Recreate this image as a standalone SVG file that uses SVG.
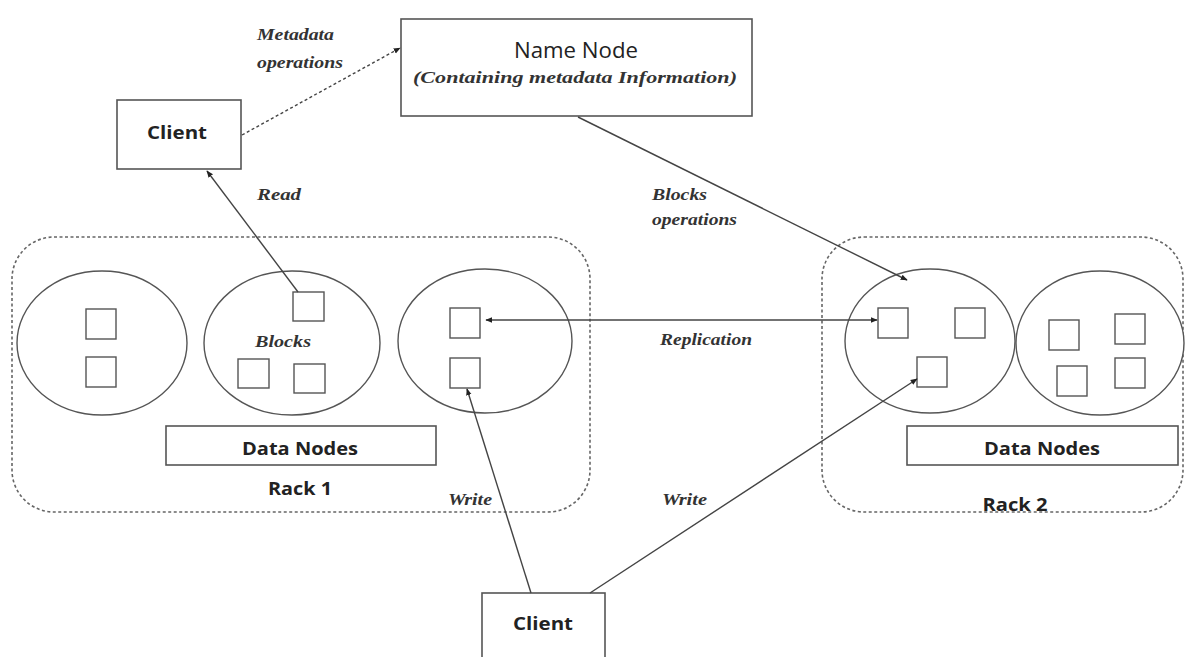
<svg xmlns="http://www.w3.org/2000/svg" width="1186" height="657" viewBox="0 0 1186 657">
<defs>
<marker id="arr" viewBox="0 0 10 10" refX="9" refY="5" markerWidth="7" markerHeight="7" orient="auto-start-reverse" markerUnits="userSpaceOnUse">
<path d="M0,1 L10,5 L0,9 z" fill="#222"/>
</marker>
<style>
.box{fill:#fff;stroke:#555;stroke-width:1.6}
.rack{fill:none;stroke:#666;stroke-width:1.6;stroke-dasharray:3 2.5}
.ell{fill:#fff;stroke:#555;stroke-width:1.4}
.sq{fill:#fff;stroke:#555;stroke-width:1.4}
.lbl{font-family:"Open Sans","Liberation Sans",sans-serif;font-weight:bold;font-size:18px;fill:#222;text-anchor:middle}
.nm{font-family:"Open Sans","Liberation Sans",sans-serif;font-size:22px;fill:#222;text-anchor:middle}
.it{font-family:"Liberation Serif",serif;font-style:italic;font-weight:bold;font-size:17px;fill:#333}
.con{fill:none;stroke:#444;stroke-width:1.4}
</style>
</defs>
<rect width="1186" height="657" fill="#fff"/>

<g id="rack1">
<rect class="rack" x="12" y="237" width="578" height="275" rx="42"/>
<text class="lbl" x="300" y="495" textLength="64" lengthAdjust="spacingAndGlyphs">Rack 1</text>
</g>
<g id="rack2">
<rect class="rack" x="822" y="237" width="361" height="275" rx="42"/>
<text class="lbl" x="1015" y="511" textLength="65" lengthAdjust="spacingAndGlyphs">Rack 2</text>
</g>

<g id="datanode1">
<ellipse class="ell" cx="102" cy="343" rx="85" ry="72"/>
<rect class="sq" x="86" y="309" width="30" height="30"/>
<rect class="sq" x="86" y="357" width="30" height="30"/>
</g>
<g id="datanode2">
<ellipse class="ell" cx="292" cy="343" rx="88" ry="72"/>
<rect class="sq" x="293" y="292" width="31" height="29"/>
<rect class="sq" x="238" y="359" width="31" height="29"/>
<rect class="sq" x="294" y="364" width="31" height="29"/>
<text class="it" x="255" y="347" textLength="56" lengthAdjust="spacingAndGlyphs">Blocks</text>
</g>
<g id="datanode3">
<ellipse class="ell" cx="485" cy="341" rx="87" ry="72"/>
<rect class="sq" x="450" y="308" width="30" height="30"/>
<rect class="sq" x="450" y="358" width="30" height="30"/>
</g>
<g id="datanode4">
<ellipse class="ell" cx="930" cy="341" rx="85" ry="72"/>
<rect class="sq" x="878" y="308" width="30" height="30"/>
<rect class="sq" x="955" y="308" width="30" height="30"/>
<rect class="sq" x="917" y="357" width="30" height="30"/>
</g>
<g id="datanode5">
<ellipse class="ell" cx="1100" cy="343" rx="84" ry="72"/>
<rect class="sq" x="1049" y="320" width="30" height="30"/>
<rect class="sq" x="1115" y="314" width="30" height="30"/>
<rect class="sq" x="1057" y="366" width="30" height="30"/>
<rect class="sq" x="1115" y="358" width="30" height="30"/>
</g>

<g id="datanodes1">
<rect class="box" x="166" y="426" width="270" height="39"/>
<text class="lbl" x="300" y="455" textLength="116" lengthAdjust="spacingAndGlyphs">Data Nodes</text>
</g>
<g id="datanodes2">
<rect class="box" x="907" y="426" width="271" height="39"/>
<text class="lbl" x="1042" y="455" textLength="116" lengthAdjust="spacingAndGlyphs">Data Nodes</text>
</g>

<g id="namenode">
<rect class="box" x="401" y="19" width="351" height="97"/>
<text class="nm" x="576" y="58" textLength="124" lengthAdjust="spacingAndGlyphs">Name Node</text>
<text class="it" x="413" y="83" textLength="324" lengthAdjust="spacingAndGlyphs">(Containing metadata Information)</text>
</g>
<g id="client1">
<rect class="box" x="117" y="100" width="124" height="69"/>
<text class="lbl" x="177" y="139" textLength="60" lengthAdjust="spacingAndGlyphs">Client</text>
</g>
<g id="client2">
<rect class="box" x="482" y="593" width="123" height="70"/>
<text class="lbl" x="543" y="630" textLength="60" lengthAdjust="spacingAndGlyphs">Client</text>
</g>

<g id="connectors">
<line class="con" x1="242" y1="135" x2="400" y2="48" stroke-dasharray="3 2.5" marker-end="url(#arr)"/>
<line class="con" x1="298" y1="292" x2="207" y2="171" marker-end="url(#arr)"/>
<line class="con" x1="578" y1="117" x2="907" y2="280" marker-end="url(#arr)"/>
<line class="con" x1="486" y1="320" x2="877" y2="320" marker-start="url(#arr)" marker-end="url(#arr)"/>
<line class="con" x1="531" y1="593" x2="467" y2="389" marker-end="url(#arr)"/>
<line class="con" x1="590" y1="593" x2="917" y2="379" marker-end="url(#arr)"/>
<text class="it" x="257" y="40" textLength="77" lengthAdjust="spacingAndGlyphs">Metadata</text>
<text class="it" x="257" y="68" textLength="86" lengthAdjust="spacingAndGlyphs">operations</text>
<text class="it" x="257" y="200" textLength="44" lengthAdjust="spacingAndGlyphs">Read</text>
<text class="it" x="652" y="200" textLength="55" lengthAdjust="spacingAndGlyphs">Blocks</text>
<text class="it" x="652" y="225" textLength="85" lengthAdjust="spacingAndGlyphs">operations</text>
<text class="it" x="660" y="345" textLength="92" lengthAdjust="spacingAndGlyphs">Replication</text>
<text class="it" x="448" y="505" textLength="44" lengthAdjust="spacingAndGlyphs">Write</text>
<text class="it" x="662" y="505" textLength="45" lengthAdjust="spacingAndGlyphs">Write</text>
</g>
</svg>
